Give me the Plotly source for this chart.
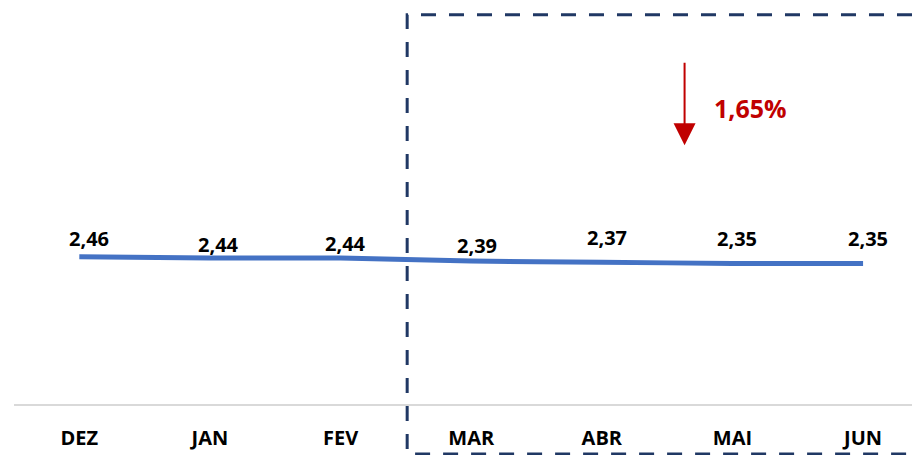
import plotly.graph_objects as go

months = ["DEZ", "JAN", "FEV", "MAR", "ABR", "MAI", "JUN"]
values = [2.46, 2.44, 2.44, 2.39, 2.37, 2.35, 2.35]
labels = ["2,46", "2,44", "2,44", "2,39", "2,37", "2,35", "2,35"]
change_label = "1,65%"

# label placement offsets (pixels above the line)
label_lift = [18, 14, 15, 16, 25, 25, 25]
label_dx = [10, 9, 5, 6, 5, 5, 5]

W, H = 912, 455
ref_left, ref_axis, ref_top = 13.7, 404, 14.6
ml = ref_left
mt = ref_top
mb = H - ref_axis
mr = 0

pw = W - ml - mr
ph = H - mt - mb
def px(x):
    return (x - ml) / pw
def py(y):
    return (H - mb - y) / ph

step = 130.67
xmax = -0.5 + (W - ref_left) / step
ymax = (ref_axis - ref_top) / ((ref_axis - 256.7) / 2.46)

fig = go.Figure()
fig.add_trace(go.Scatter(
    x=months, y=values, mode="lines",
    line=dict(color="#4472C4", width=5, shape="spline", smoothing=0.6),
    hoverinfo="skip",
))

for m, v, t, lift, dx in zip(months, values, labels, label_lift, label_dx):
    fig.add_annotation(x=m, y=v, text=t, showarrow=False,
                       xanchor="center", yanchor="middle",
                       xshift=dx, yshift=lift,
                       font=dict(family="Open Sans", size=20, color="#000000", weight="bold"))

# dashed box (right side lies outside the visible area)
xl, xr, yt, yb = px(407), px(940), py(14.3), py(454)
fig.add_shape(type="path", xref="paper", yref="paper",
              path=f"M {xr},{yt} L {xl},{yt} L {xl},{yb} L {xr},{yb}",
              line=dict(color="#203864", width=3, dash="15px,13px"))

fig.add_annotation(xref="paper", yref="paper", x=px(684.5), y=py(145),
                   ax=0, ay=-84, axref="pixel", ayref="pixel",
                   showarrow=True, arrowhead=2, arrowsize=2.2, arrowwidth=2,
                   arrowcolor="#C00000", text="")
fig.add_annotation(xref="paper", yref="paper", x=px(750.5), y=py(108),
                   xanchor="center", yanchor="middle",
                   text=change_label, showarrow=False,
                   font=dict(family="Open Sans", size=25, color="#C00000", weight="bold"))

fig.update_layout(
    width=W, height=H,
    margin=dict(l=ml, r=mr, t=mt, b=mb),
    plot_bgcolor="white", paper_bgcolor="white",
    showlegend=False,
    xaxis=dict(range=[-0.5, xmax], showgrid=False, zeroline=False,
               showline=True, linecolor="#D9D9D9", linewidth=2,
               ticks="", tickfont=dict(family="Open Sans", size=20, color="#000000", weight="bold"),
               ticklabelstandoff=15, fixedrange=True),
    yaxis=dict(range=[0, ymax], visible=False, fixedrange=True),
)

fig.write_html("out.html", config={"displayModeBar": False},
               post_script="document.body.style.margin='0';document.body.style.overflow='hidden';")
